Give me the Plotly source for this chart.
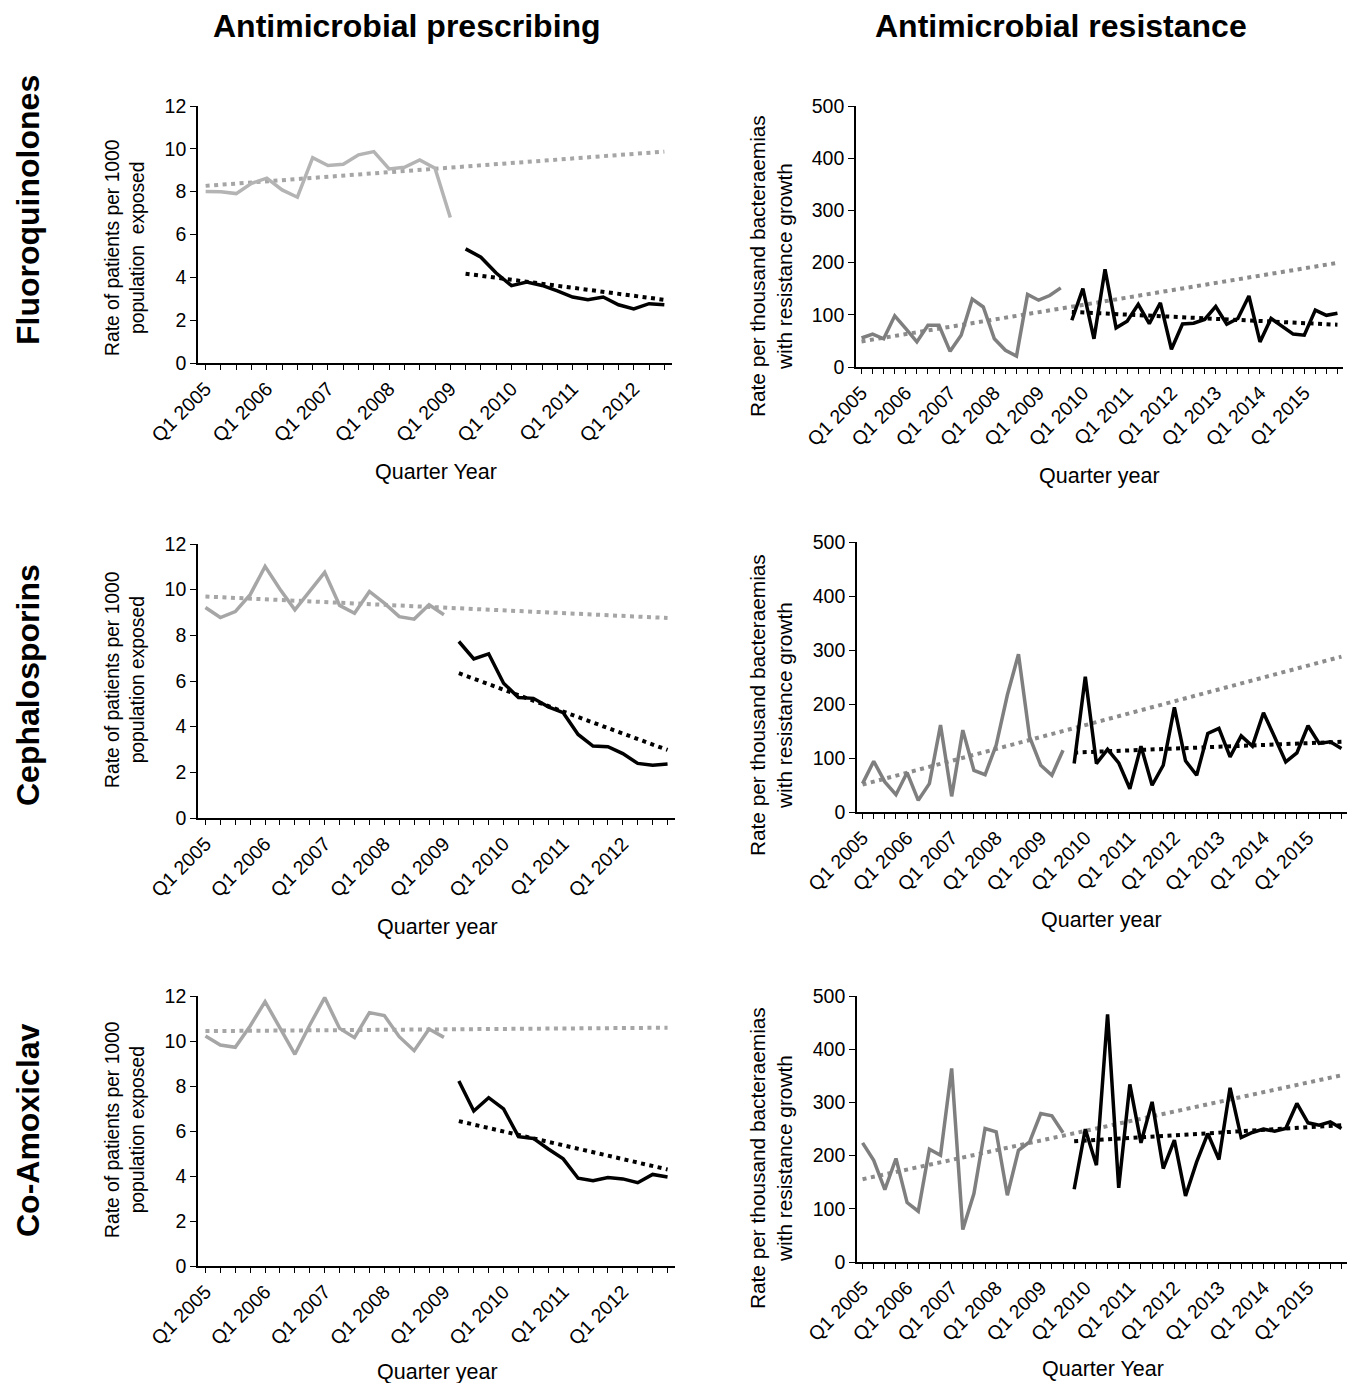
import plotly.graph_objects as go

# page window is 1358x1383; the html body adds an 8px margin, so the figure
# itself is made 8px smaller and all pixel positions are offset by 8px
OFF = 8
W, H = 1358 - OFF, 1383 - OFF
FONT = "Liberation Sans, Arial, sans-serif"

# ---------------- data ----------------
# Prescribing panels: quarters from Q1 2005
fq_presc_pre = [8.01, 8.0, 7.91, 8.39, 8.63, 8.08, 7.74, 9.59, 9.22, 9.28, 9.72, 9.87, 9.06, 9.14, 9.48, 9.09, 6.79]
fq_presc_post = [5.33, 4.94, 4.2, 3.61, 3.78, 3.62, 3.37, 3.08, 2.95, 3.08, 2.72, 2.53, 2.77, 2.72]
fq_presc_trend_pre = [8.27, 9.87]
fq_presc_trend_post = [4.17, 2.95]

ce_presc_pre = [9.22, 8.78, 9.04, 9.78, 11.02, 10.02, 9.12, 9.92, 10.76, 9.31, 8.97, 9.92, 9.41, 8.82, 8.71, 9.34, 8.9]
ce_presc_post = [7.73, 6.97, 7.19, 5.9, 5.28, 5.24, 4.87, 4.61, 3.66, 3.15, 3.12, 2.82, 2.39, 2.31, 2.36]
ce_presc_trend_pre = [9.70, 8.76]
ce_presc_trend_post = [6.34, 2.98]

ca_presc_pre = [10.22, 9.82, 9.72, 10.67, 11.75, 10.56, 9.41, 10.71, 11.93, 10.56, 10.15, 11.26, 11.13, 10.19, 9.57, 10.53, 10.16]
ca_presc_post = [8.22, 6.89, 7.48, 6.98, 5.75, 5.67, 5.2, 4.76, 3.9, 3.79, 3.93, 3.87, 3.7, 4.07, 3.96]
ca_presc_trend_pre = [10.44, 10.59]
ca_presc_trend_post = [6.44, 4.29]

# Resistance panels: quarters Q1 2005 - Q4 2015
fq_res_pre = [55.6, 63, 54, 98, 73.5, 48, 80, 80, 30, 61, 130, 115, 54, 32, 21, 139, 128, 137, 151.5]
fq_res_post = [89.5, 150, 54, 187, 75, 87.6, 120, 83, 123, 34, 82.5, 84, 91, 116, 82, 93, 136, 48, 93, 79, 63, 61, 109, 99, 103]
fq_res_trend_pre = [49, 199.5]
fq_res_trend_post = [105.5, 81]

ce_res_pre = [52.6, 94, 55.7, 32, 73, 21.7, 52.6, 161, 29, 151.6, 77, 69, 124, 216.6, 292, 139, 86.6, 68, 114.5]
ce_res_post = [89.7, 250.6, 89.7, 116, 91, 43, 122, 49.5, 86.6, 193.7, 94.7, 68, 145.4, 154.7, 102, 141, 122, 183.8, 139, 92.8, 109.5, 159.7, 126.9, 130, 117.6]
ce_res_trend_pre = [50.7, 287.7]
ce_res_trend_post = [110, 130]

ca_res_pre = [224, 191, 136, 194.5, 111.7, 95.4, 212, 200.8, 363.9, 60.9, 128.6, 251, 244.7, 125.5, 210, 225.8, 279, 274.8, 242.8]
ca_res_post = [136.8, 249.7, 182, 465.5, 139.3, 333.8, 224, 301, 175.7, 229, 124.2, 188.2, 241.5, 192.6, 327.5, 234, 243.4, 249.7, 246, 251, 298, 261.6, 257.2, 263.5, 251]
ca_res_trend_pre = [155.6, 351]
ca_res_trend_post = [227, 257]

presc_years = list(range(2005, 2013))
res_years = list(range(2005, 2016))

# ---------------- layout helpers ----------------
def px_x(v):
    return (v - OFF) / W

def px_y(v):
    return 1 - (v - OFF) / H

# panel pixel boxes (page pixels): (x0, x1, ytop, ybottom)
boxes = {
    1: (198, 672, 106, 363),
    2: (856, 1343, 106, 367),
    3: (198, 675, 544, 818),
    4: (857, 1347, 542, 812),
    5: (198, 675, 996, 1266),
    6: (857, 1347, 996, 1262),
}

panels = [
    # idx, pre, post, trend_pre, trend_post, ncat, ymax, dtick, years, gray_line, gray_trend
    (1, fq_presc_pre, fq_presc_post, fq_presc_trend_pre, fq_presc_trend_post, 31, 12, 2, presc_years, "#b4b4b4", "#a6a6a6"),
    (2, fq_res_pre, fq_res_post, fq_res_trend_pre, fq_res_trend_post, 44, 500, 100, res_years, "#7f7f7f", "#8c8c8c"),
    (3, ce_presc_pre, ce_presc_post, ce_presc_trend_pre, ce_presc_trend_post, 32, 12, 2, presc_years, "#a6a6a6", "#a6a6a6"),
    (4, ce_res_pre, ce_res_post, ce_res_trend_pre, ce_res_trend_post, 44, 500, 100, res_years, "#7f7f7f", "#8c8c8c"),
    (5, ca_presc_pre, ca_presc_post, ca_presc_trend_pre, ca_presc_trend_post, 32, 12, 2, presc_years, "#a6a6a6", "#a6a6a6"),
    (6, ca_res_pre, ca_res_post, ca_res_trend_pre, ca_res_trend_post, 44, 500, 100, res_years, "#7f7f7f", "#8c8c8c"),
]

fig = go.Figure()
layout = dict(
    width=W, height=H,
    margin=dict(l=0, r=0, t=0, b=0, pad=0),
    paper_bgcolor="white", plot_bgcolor="white",
    showlegend=False,
    font=dict(family=FONT, color="black"),
)

for (i, pre, post, tpre, tpost, ncat, ymax, dtick, years, gcol, gtcol) in panels:
    xa = "x" if i == 1 else f"x{i}"
    ya = "y" if i == 1 else f"y{i}"
    n_pre = len(pre)
    x_pre = list(range(n_pre))
    x_post = list(range(n_pre, n_pre + len(post)))
    last = n_pre + len(post) - 1
    # trend lines (drawn first, beneath)
    fig.add_trace(go.Scatter(x=[0, last], y=tpre, xaxis=xa, yaxis=ya, mode="lines",
                             line=dict(color=gtcol, width=4, dash="4px,4.5px"), hoverinfo="skip"))
    fig.add_trace(go.Scatter(x=[n_pre, last], y=tpost, xaxis=xa, yaxis=ya, mode="lines",
                             line=dict(color="black", width=4, dash="4px,4.5px"), hoverinfo="skip"))
    fig.add_trace(go.Scatter(x=x_pre, y=pre, xaxis=xa, yaxis=ya, mode="lines",
                             line=dict(color=gcol, width=3.5)))
    fig.add_trace(go.Scatter(x=x_post, y=post, xaxis=xa, yaxis=ya, mode="lines",
                             line=dict(color="black", width=3.5)))

    x0, x1, yt, yb = boxes[i]
    tickvals = list(range(ncat))
    ticktext = [f"Q1 {years[k // 4]}" if k % 4 == 0 and k // 4 < len(years) else "" for k in range(ncat)]
    layout["xaxis" if i == 1 else f"xaxis{i}"] = dict(
        domain=[px_x(x0), px_x(x1)], anchor=ya, automargin=False,
        range=[-0.5, ncat - 0.5], tickmode="array", tickvals=tickvals, ticktext=ticktext,
        tickangle=-45, ticks="outside", ticklen=5, tickwidth=1.3, tickcolor="black",
        showline=True, linecolor="black", linewidth=1.6, showgrid=False, zeroline=False,
        tickfont=dict(size=19.5, family=FONT, color="black"),
    )
    layout["yaxis" if i == 1 else f"yaxis{i}"] = dict(
        domain=[px_y(yb), px_y(yt)], anchor=xa, automargin=False,
        range=[0, ymax], dtick=dtick, tick0=0,
        ticks="outside", ticklen=6, tickwidth=1.3, tickcolor="black",
        showline=True, linecolor="black", linewidth=1.6, showgrid=False, zeroline=False,
        tickfont=dict(size=19.5, family=FONT, color="black"),
    )

annotations = []

def ann(text, x, y, size, bold=False, angle=0):
    annotations.append(dict(
        text=f"<b>{text}</b>" if bold else text,
        x=px_x(x), y=px_y(y), xref="paper", yref="paper",
        xanchor="center", yanchor="middle", showarrow=False, textangle=angle,
        font=dict(size=size, family=FONT, color="black"),
    ))

# column titles
ann("Antimicrobial prescribing", 407, 26, 32, bold=True)
ann("Antimicrobial resistance", 1061, 26, 32, bold=True)
# row labels
ann("Fluoroquinolones", 28, 210, 32, bold=True, angle=-90)
ann("Cephalosporins", 28, 685, 32, bold=True, angle=-90)
ann("Co-Amoxiclav", 28, 1130, 32, bold=True, angle=-90)

# y axis titles
left_ytitle = "Rate of patients per 1000<br>population  exposed"
left_ytitle2 = "Rate of patients per 1000<br>population exposed"
right_ytitle = "Rate per thousand bacteraemias<br>with resistance growth"
ann(left_ytitle, 125, 248, 19.3, angle=-90)
ann(left_ytitle2, 125, 680, 19.3, angle=-90)
ann(left_ytitle2, 125, 1130, 19.3, angle=-90)
ann(right_ytitle, 771, 266, 20.8, angle=-90)
ann(right_ytitle, 771, 705, 20.8, angle=-90)
ann(right_ytitle, 771, 1158, 20.8, angle=-90)

# x axis titles
ann("Quarter Year", 436, 472, 21.5)
ann("Quarter year", 1099, 476, 21.5)
ann("Quarter year", 437, 927, 21.5)
ann("Quarter year", 1101, 920, 21.5)
ann("Quarter year", 437, 1372, 21.5)
ann("Quarter Year", 1103, 1369, 21.5)

layout["annotations"] = annotations
fig.update_layout(**layout)
fig.write_html("out.html")
